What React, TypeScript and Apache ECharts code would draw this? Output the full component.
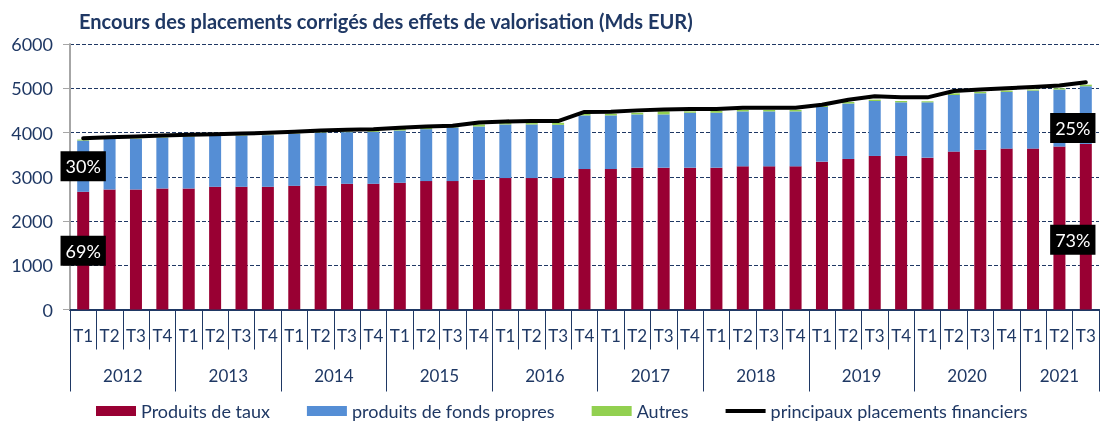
import React, { useEffect, useRef } from "react";
import * as echarts from "echarts";

const years = ["2012", "2013", "2014", "2015", "2016", "2017", "2018", "2019", "2020", "2021"];
const quartersPerYear = [4, 4, 4, 4, 4, 4, 4, 4, 4, 3];
const quarterNames = ["T1", "T2", "T3", "T4"];

// Stack tops (Mds EUR)
const produitsDeTaux = [
  2660, 2712, 2712, 2735, 2735, 2773, 2773, 2773, 2795, 2795, 2841, 2841, 2864, 2902, 2902, 2932,
  2970, 2970, 2970, 3174, 3174, 3205, 3205, 3205, 3205, 3235, 3235, 3235, 3341, 3402, 3470, 3470,
  3432, 3568, 3606, 3636, 3636, 3682, 3742,
];
const fondsPropresTop = [
  3818, 3856, 3856, 3886, 3909, 3924, 3932, 3940, 3970, 4000, 4008, 4015, 4045, 4076, 4114, 4136,
  4182, 4182, 4174, 4386, 4386, 4409, 4409, 4447, 4447, 4477, 4477, 4477, 4576, 4655, 4712, 4682,
  4682, 4848, 4886, 4917, 4947, 4970, 5045,
];
const autresTop = [
  3840, 3866, 3866, 3896, 3919, 3934, 3942, 3950, 3980, 4012, 4022, 4045, 4083, 4106, 4130, 4182,
  4212, 4212, 4220, 4430, 4424, 4447, 4477, 4477, 4485, 4508, 4508, 4508, 4600, 4690, 4742, 4712,
  4705, 4886, 4917, 4947, 4970, 5000, 5080,
];
const placementsFinanciers = [
  3870, 3894, 3909, 3932, 3947, 3962, 3977, 3992, 4015, 4045, 4060, 4076, 4106, 4136, 4152, 4227,
  4250, 4258, 4258, 4465, 4470, 4500, 4520, 4530, 4530, 4561, 4561, 4561, 4629, 4740, 4818, 4795,
  4795, 4939, 4970, 5000, 5030, 5061, 5136,
];

const firstShareLabels = { taux: "69%", fonds: "30%" };
const lastShareLabels = { taux: "73%", fonds: "25%" };

const yTicks = { min: 0, max: 6000, interval: 1000 };

const NAVY = "#1F3864";
const FONT = "Lato, 'Open Sans', sans-serif";

export default function App() {
  const ref = useRef<HTMLDivElement>(null);

  useEffect(() => {
    if (!ref.current) return;
    const chart = echarts.init(ref.current, undefined, { renderer: "svg" });

    const categories: string[] = [];
    years.forEach((y, i) => {
      for (let q = 0; q < quartersPerYear[i]; q++) categories.push(quarterNames[q]);
    });
    const n = categories.length;

    // second axis: boundary points (2 per quarter) for year labels and separators
    const yearAxisData: string[] = new Array(2 * n + 1).fill("");
    const yearTickIdx = new Set<number>();
    let start = 0;
    years.forEach((y, i) => {
      yearAxisData[2 * start + quartersPerYear[i]] = y;
      yearTickIdx.add(2 * start);
      start += quartersPerYear[i];
    });
    yearTickIdx.add(2 * n);

    const fondsSeg = fondsPropresTop.map((v, i) => v - produitsDeTaux[i]);
    const autresSeg = autresTop.map((v, i) => v - fondsPropresTop[i]);

    const boxLabel = (text: string, offset: number[]) => ({
      show: true,
      position: "inside",
      formatter: text,
      backgroundColor: "#000",
      color: "#fff",
      fontFamily: FONT,
      fontSize: 18,
      lineHeight: 20,
      padding: [5, 5, 5, 5],
      offset,
    });

    const tauxData: any[] = produitsDeTaux.map((v) => v);
    tauxData[0] = { value: produitsDeTaux[0], label: boxLabel(firstShareLabels.taux, [0, 0]) };
    tauxData[n - 1] = { value: produitsDeTaux[n - 1], label: boxLabel(lastShareLabels.taux, [-13, 13]) };
    const fondsData: any[] = fondsSeg.map((v) => v);
    fondsData[0] = { value: fondsSeg[0], label: boxLabel(firstShareLabels.fonds, [0, 0]) };
    fondsData[n - 1] = { value: fondsSeg[n - 1], label: boxLabel(lastShareLabels.fonds, [-13, 13]) };

    chart.setOption({
      animation: false,
      title: {
        text: "Encours des placements corrigés des effets de valorisation (Mds EUR)",
        left: 74,
        top: 6,
        textStyle: { fontFamily: FONT, fontSize: 20, fontWeight: "bold", color: NAVY },
      },
      grid: { left: 70, right: 1, top: 44, bottom: 114.5 },
      legend: {
        left: 91,
        top: 397,
        itemWidth: 40,
        itemHeight: 10,
        itemGap: 37,
        textStyle: { fontFamily: FONT, fontSize: 18, color: NAVY },
        data: [
          { name: "Produits de taux", icon: "rect" },
          { name: "produits de fonds propres", icon: "rect" },
          { name: "Autres", icon: "rect" },
          { name: "principaux placements financiers", icon: "path://M0,3 L40,3 L40,7 L0,7 Z" },
        ],
      },
      xAxis: [
        {
          type: "category",
          data: categories,
          boundaryGap: true,
          axisLine: { show: true, lineStyle: { color: NAVY, width: 2 } },
          axisTick: { show: true, interval: 0, length: 40, lineStyle: { color: NAVY, width: 1 } },
          axisLabel: { interval: 0, margin: 17, fontFamily: FONT, fontSize: 17, color: NAVY },
        },
        {
          type: "category",
          data: yearAxisData,
          boundaryGap: false,
          position: "bottom",
          axisLine: { show: false },
          axisTick: {
            show: true,
            interval: (idx: number) => yearTickIdx.has(idx),
            length: 82,
            lineStyle: { color: NAVY, width: 1 },
          },
          axisLabel: { interval: 0, margin: 57, fontFamily: FONT, fontSize: 17, color: NAVY },
        },
      ],
      yAxis: {
        type: "value",
        min: yTicks.min,
        max: yTicks.max,
        interval: yTicks.interval,
        axisLine: { show: true, lineStyle: { color: "#A6A6A6", width: 2 } },
        axisTick: { show: true, length: 7, lineStyle: { color: "#A6A6A6", width: 1 } },
        axisLabel: {
          margin: 17,
          fontFamily: FONT,
          fontSize: 18,
          color: NAVY,
          formatter: (v: number) => String(v),
        },
        splitLine: { show: true, lineStyle: { color: NAVY, type: [4, 2], width: 1 } },
      },
      series: [
        {
          name: "Produits de taux",
          type: "bar",
          stack: "total",
          barWidth: 12,
          itemStyle: { color: "#990033" },
          data: tauxData,
        },
        {
          name: "produits de fonds propres",
          type: "bar",
          stack: "total",
          barWidth: 12,
          itemStyle: { color: "#558ED5" },
          data: fondsData,
        },
        {
          name: "Autres",
          type: "bar",
          stack: "total",
          barWidth: 12,
          itemStyle: { color: "#92D050" },
          data: autresSeg,
        },
        {
          name: "principaux placements financiers",
          type: "line",
          symbol: "none",
          z: 5,
          lineStyle: { color: "#000", width: 4, join: "round", cap: "round" },
          itemStyle: { color: "#000" },
          data: placementsFinanciers,
        },
      ],
    });

    return () => chart.dispose();
  }, []);

  return (
    <div
      ref={ref}
      style={{ position: "fixed", left: 0, top: 0, width: 1102, height: 424 }}
    />
  );
}
